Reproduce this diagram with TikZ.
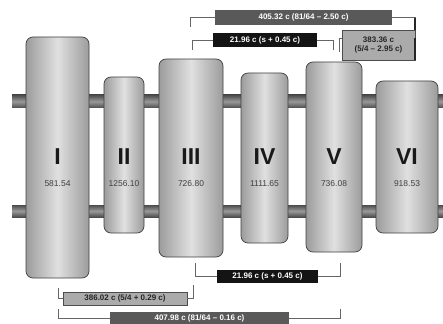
\documentclass[tikz,border=0pt]{standalone}
\usepackage{fontspec}
\setmainfont{Liberation Sans}
\begin{document}
\begin{tikzpicture}[
  x=1pt, y=-1pt,
  block/.style={rectangle, rounded corners=7pt, draw=black!75, line width=0.7pt,
    left color=gray!78, right color=gray!78, middle color=gray!24, inner sep=0pt},
  numeral/.style={font=\fontsize{23}{23}\selectfont\bfseries, text=black!90},
  value/.style={font=\fontsize{8.5}{9}\selectfont, text=black!75},
  bar/.style={top color=black!70, bottom color=black!70, middle color=black!40},
  tag/.style={rectangle, inner sep=0pt, minimum height=14pt,
    font=\fontsize{8}{9}\selectfont\bfseries},
  darkbox/.style={tag, fill=black!65, text=white},
  blackbox/.style={tag, fill=black!92, text=white},
  lightbox/.style={tag, fill=black!33, draw=black!70, text=black!85, align=center},
  brk/.style={draw=black!60, line width=0.6pt},
  brkend/.style={draw=black!85, line width=1.2pt}
]
  \useasboundingbox (0,0) rectangle (443,323);
  \clip (0,0) rectangle (443,323);

  % the two shafts
  \shade[bar] (12,95) rectangle (443,108);
  \shade[bar] (12,205) rectangle (443,217);

  % blocks
  \foreach \n/\x/\y/\w/\h/\v in {I/57.5/157.5/63/241/581.54,
      II/124/155/40/156/1256.10, III/191/158/64/198/726.80,
      IV/264.5/158/47/170/1111.65, V/334/157/56/190/736.08,
      VI/407/157/62/152/918.53} {
    \node[block, minimum width=\w pt, minimum height=\h pt] (blk\n) at (\x,\y) {};
    \node[numeral] (num\n) at (\x,157) {\n};
    \node[value] (val\n) at (\x,184) {\v};
  }

  % top brackets
  \node[darkbox, minimum width=177pt, minimum height=15pt] (t405) at (303.5,17.5)
    {405.32 c (81/64 -- 2.50 c)};
  \coordinate (t405l) at (190,27);
  \coordinate (t405r) at (415,30);
  \draw[brk] (t405l) |- (t405.west);
  \draw[brk] (t405.east) -| (t405r);
  \draw[brkend] (415,18) -- (t405r);

  \node[blackbox, minimum width=104pt] (t2196) at (265,40) {21.96 c (s + 0.45 c)};
  \coordinate (t2196l) at (192,50);
  \coordinate (t2196r) at (333,50);
  \draw[brk] (t2196l) |- (t2196.west);
  \draw[brk] (t2196.east) -| (t2196r);

  \node[lightbox, minimum width=73pt, minimum height=30pt] (t383) at (378.5,45)
    {383.36 c\\(5/4 -- 2.95 c)};
  \coordinate (t383l) at (339,52);
  \coordinate (t383r) at (415,60);
  \draw[brk] (t383l) -- (339,38) -- (342,38);
  \draw[brkend] (415,38) -- (t383r);

  % bottom brackets
  \node[blackbox, minimum width=101pt, minimum height=13pt] (b2196) at (267.5,276.5)
    {21.96 c (s + 0.45 c)};
  \coordinate (b2196l) at (195,263);
  \coordinate (b2196r) at (340,263);
  \draw[brk] (b2196l) |- (b2196.west);
  \draw[brk] (b2196.east) -| (b2196r);

  \node[lightbox, minimum width=124pt, minimum height=13pt] (b386) at (125,298.5)
    {386.02 c (5/4 + 0.29 c)};
  \coordinate (b386l) at (58,288);
  \coordinate (b386r) at (193,285);
  \draw[brk] (b386l) |- (b386.west);
  \draw[brk] (b386.east) -| (b386r);

  \node[darkbox, minimum width=179pt] (b407) at (199.5,318.5)
    {407.98 c (81/64 -- 0.16 c)};
  \coordinate (b407l) at (58,309);
  \coordinate (b407r) at (340,309);
  \draw[brk] (b407l) |- (b407.west);
  \draw[brk] (b407.east) -| (b407r);
\end{tikzpicture}
\end{document}
